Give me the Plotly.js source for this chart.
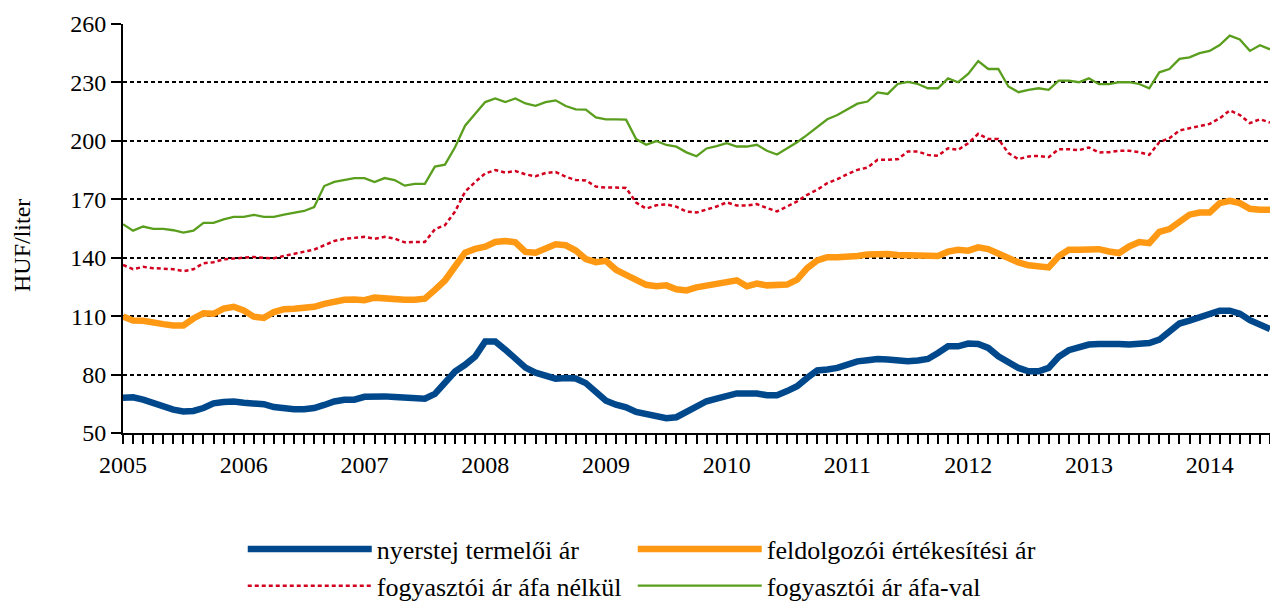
<!DOCTYPE html>
<html>
<head>
<meta charset="utf-8">
<script src="https://cdn.plot.ly/plotly-3.0.1.min.js"></script>
<style>html,body{margin:0;padding:0;background:#fff;}#chart{width:1270px;height:602px;}</style>
</head>
<body>
<div id="chart"></div>
<script>
// Monthly data, January 2005 – July 2014 (HUF/liter)
const years = [2005, 2006, 2007, 2008, 2009, 2010, 2011, 2012, 2013, 2014];
const seriesNames = ["nyerstej termelői ár", "feldolgozói értékesítési ár", "fogyasztói ár áfa nélkül", "fogyasztói ár áfa-val"];

const nyerstej = [
  68.1, 68.3, 67.1, 65.4, 63.5, 62.0, 61.1, 61.3, 62.8, 65.2, 65.9, 66.2,
  65.5, 65.2, 64.8, 63.3, 62.4, 62.2, 62.2, 62.8, 64.4, 66.2, 67.1, 67.1,
  68.6, 69.1, 68.8, 68.5, 68.1, 67.4, 67.6, 70.1, 75.6, 81.6, 85.0, 89.3,
  97.0, 97.0, 92.8, 88.7, 83.6, 81.0, 79.4, 77.9, 78.2, 78.0, 75.6, 71.4,
  66.6, 64.5, 63.2, 60.8, 59.6, 58.1, 57.6, 58.1, 60.6, 63.0, 66.3, 67.7,
  68.9, 70.3, 70.3, 70.3, 69.4, 69.4, 71.5, 74.0, 78.3, 82.1, 82.6, 83.4,
  85.1, 86.8, 87.4, 88.0, 87.7, 87.2, 86.8, 87.2, 88.0, 91.1, 94.5, 94.5,
  95.9, 95.7, 93.7, 89.4, 86.0, 83.4, 81.7, 81.7, 83.4, 89.1, 92.5, 94.3,
  95.4, 95.7, 95.9, 95.7, 95.4, 95.9, 96.2, 97.9, 102.2, 106.2, 107.7, 109.6,
  111.3, 112.8, 112.8, 111.3, 107.9, 105.6, 103.4
];
const feldolgozoi = [
  109.8, 107.8, 107.6, 107.1, 105.9, 105.2, 105.2, 108.8, 111.5, 111.2, 113.9, 114.8,
  112.9, 109.7, 109.1, 112.1, 113.6, 113.8, 114.3, 114.8, 116.3, 117.5, 118.4, 118.5,
  118.2, 119.5, 119.0, 118.5, 118.4, 118.4, 119.0, 123.5, 128.3, 135.5, 142.6, 144.5,
  145.7, 148.1, 148.6, 147.9, 143.0, 142.6, 144.5, 146.9, 146.4, 143.7, 139.3, 137.7,
  138.4, 133.8, 131.2, 128.5, 126.1, 125.4, 125.8, 123.8, 123.2, 124.8, 125.8, 126.2,
  128.0, 128.4, 125.3, 126.7, 125.8, 125.8, 126.2, 128.7, 134.7, 138.6, 140.3, 140.3,
  140.3, 140.9, 141.7, 141.9, 141.9, 141.4, 141.4, 141.7, 141.2, 140.9, 143.1, 144.1,
  143.6, 145.3, 144.4, 142.0, 139.5, 137.6, 136.1, 135.9, 135.0, 140.7, 144.1, 144.1,
  144.4, 144.4, 143.2, 142.4, 145.8, 148.0, 147.5, 153.3, 154.7, 158.6, 162.1, 163.2,
  163.2, 168.0, 169.2, 168.0, 165.1, 164.6, 164.6
];
const afaNelkul = [
  136.3, 134.1, 135.3, 134.6, 134.4, 134.1, 133.1, 134.1, 137.2, 137.7, 139.2, 139.7,
  139.9, 140.4, 139.9, 139.7, 140.9, 142.0, 142.8, 144.2, 146.4, 148.6, 149.7, 150.3,
  150.7, 149.7, 150.7, 149.8, 147.9, 148.1, 148.1, 154.6, 156.7, 163.7, 173.9, 178.9,
  183.3, 185.0, 183.7, 184.5, 182.8, 181.8, 183.5, 184.0, 181.6, 179.9, 179.7, 176.5,
  176.0, 176.0, 175.8, 168.3, 165.2, 166.9, 167.4, 166.2, 163.7, 163.2, 164.6, 166.3,
  168.4, 166.8, 166.8, 167.5, 165.5, 163.8, 166.3, 168.9, 172.3, 174.9, 178.3, 180.3,
  182.9, 185.1, 186.3, 190.3, 190.3, 190.6, 194.5, 194.5, 192.8, 192.3, 196.2, 195.4,
  198.8, 203.6, 201.0, 201.0, 193.7, 190.6, 192.0, 192.3, 191.6, 195.7, 195.7, 195.2,
  196.6, 194.0, 194.2, 194.9, 194.9, 194.2, 192.8, 199.3, 201.4, 205.3, 206.5, 207.7,
  208.7, 211.6, 215.6, 213.3, 209.1, 211.1, 209.4
];
const afaVal = [
  157.2, 153.9, 156.0, 154.8, 154.8, 154.1, 152.9, 153.9, 157.9, 157.9, 159.7, 161.0,
  161.0, 162.0, 161.0, 161.0, 162.1, 163.2, 164.0, 166.0, 176.8, 178.9, 179.9, 180.9,
  180.9, 178.9, 180.9, 179.9, 177.0, 177.9, 177.9, 186.8, 187.8, 196.7, 207.8, 213.6,
  219.9, 221.8, 219.9, 221.8, 219.2, 218.0, 219.9, 220.8, 217.9, 216.2, 216.0, 212.0,
  211.0, 211.0, 210.9, 200.9, 198.0, 199.9, 197.9, 197.0, 194.1, 192.1, 196.1, 197.3,
  198.8, 197.1, 197.1, 198.0, 194.9, 193.0, 196.2, 199.3, 203.1, 207.2, 211.1, 213.3,
  216.2, 219.1, 220.2, 224.9, 224.1, 229.2, 230.3, 229.2, 227.0, 227.0, 232.1, 230.1,
  234.4, 241.0, 236.9, 236.9, 227.9, 225.0, 226.2, 227.0, 226.2, 230.9, 230.9, 230.1,
  232.1, 229.1, 229.1, 230.1, 230.1, 229.2, 227.0, 235.2, 236.9, 242.1, 242.9, 245.0,
  246.2, 249.2, 254.0, 252.1, 246.2, 249.1, 247.0
];

// month categories (index along the category axis)
const monthIndex = nyerstej.map((_, i) => i);
const monthLabels = monthIndex.map(i => (2005 + Math.floor(i / 12)) + "-" + String(i % 12 + 1).padStart(2, "0"));
const yearTickVals = years.map(y => (y - 2005) * 12);
const yearTickText = years.map(String);

const FONT = "Liberation Serif, Tinos, Times New Roman, Times, serif";

const traces = [
  {name: seriesNames[0], y: nyerstej, legend: "legend", legendgroup: "g1", line: {color: "#00488C", width: 6.5}},
  {name: seriesNames[1], y: feldolgozoi, legend: "legend2", legendgroup: "g2", line: {color: "#FF9914", width: 6.5}},
  {name: seriesNames[2], y: afaNelkul, legend: "legend", legendgroup: "g3", line: {color: "#D2001E", width: 2.5, dash: "4px,3px"}},
  {name: seriesNames[3], y: afaVal, legend: "legend2", legendgroup: "g4", line: {color: "#5A9E1E", width: 2.3}}
].map(t => Object.assign({type: "scatter", mode: "lines", x: monthIndex, text: monthLabels, hoverinfo: "text+y"}, t));

const legendBase = {
  orientation: "v", xanchor: "left", y: -0.2262, yanchor: "top",
  font: {family: FONT, size: 26, color: "#000"},
  itemwidth: 124, tracegroupgap: 0, traceorder: "grouped",
  bgcolor: "rgba(0,0,0,0)", borderwidth: 0
};

const layout = {
  width: 1270, height: 602,
  margin: {l: 123, r: 0, t: 24, b: 169, autoexpand: false},
  paper_bgcolor: "#fff", plot_bgcolor: "#fff",
  font: {family: FONT, size: 24, color: "#000"},
  showlegend: true,
  xaxis: {
    range: [0, 114], type: "linear",
    tickmode: "array", tickvals: yearTickVals, ticktext: yearTickText,
    ticks: "outside", ticklen: 9, tickwidth: 2, tickcolor: "#000",
    minor: {dtick: 1, tick0: 0, ticks: "outside", ticklen: 9, tickwidth: 2, tickcolor: "#000", showgrid: false},
    showline: true, linecolor: "#000", linewidth: 2,
    showgrid: false, zeroline: false,
    tickfont: {family: FONT, size: 24, color: "#000"}
  },
  yaxis: {
    range: [50, 260], tick0: 50, dtick: 30,
    ticks: "outside", ticklen: 10, tickwidth: 2, tickcolor: "#000",
    showline: true, linecolor: "#000", linewidth: 2,
    showgrid: true, gridcolor: "#000", gridwidth: 2, griddash: "4px,3px",
    zeroline: false,
    tickfont: {family: FONT, size: 24, color: "#000"}
  },
  legend: Object.assign({}, legendBase, {x: 0.1044}),
  legend2: Object.assign({}, legendBase, {x: 0.4444}),
  annotations: [{
    text: "HUF/liter", xref: "paper", yref: "paper",
    x: (22 - 123) / 1147, y: (433 - 246) / 409, xanchor: "center", yanchor: "middle",
    textangle: -90, showarrow: false, font: {family: FONT, size: 24, color: "#000"}
  }]
};

Plotly.newPlot("chart", traces, layout, {displayModeBar: false, staticPlot: true});
</script>
</body>
</html>
